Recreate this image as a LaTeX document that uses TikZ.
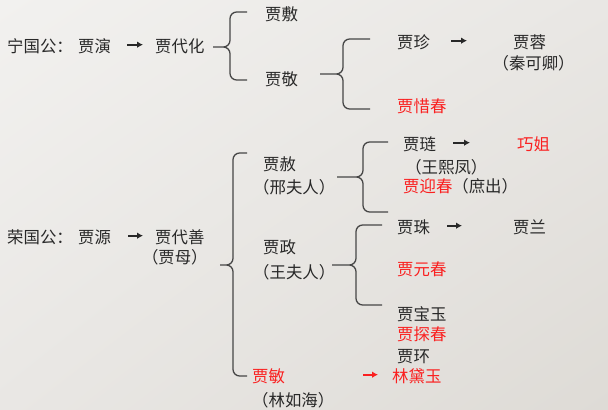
\documentclass[tikz,border=0pt]{standalone}
\usepackage{fontspec}
\newfontfamily\cjk{Noto Sans CJK SC}
\usepackage{xcolor}
\usetikzlibrary{arrows.meta, positioning, shadings}
\definecolor{bgA}{RGB}{242,241,239}
\definecolor{bgM}{RGB}{233,231,228}
\definecolor{bgB}{RGB}{222,219,214}
\definecolor{ink}{RGB}{40,40,40}
\definecolor{hred}{RGB}{250,32,32}
\definecolor{brk}{RGB}{70,70,70}
\tikzset{
  person/.style = {
    inner sep=0pt, anchor=west, text=ink,
    font=\cjk\fontsize{14}{17}\selectfont,
    text height=12pt, text depth=2pt
  },
  chai/.style  = {person, text=hred},
  bline/.style = {draw=brk, line width=1.1pt, rounded corners=0.2cm},
  arr/.style   = {-{Latex[length=1.8mm,width=2mm]}, line width=1.5pt, draw=ink}
}

\begin{document}
\begin{tikzpicture}[x=0.03cm, y=-0.03cm]

%% -- background ------------------------------------------
\shade[upper left=bgA, upper right=bgM, lower left=bgM, lower right=bgB]
  (0,0) rectangle (608,409);
\useasboundingbox (0,0) rectangle (608,409);

%% -- Ningguo line ----------------------------------------
\node[person] (ning)   at (7,47)   {宁国公：};
\node[person] (yan)    at (78,47)  {贾演};
\node[person] (daihua) at (155,47) {贾代化};
\node[person] (fu)     at (265,15) {贾敷};
\node[person] (jing)   at (265,80) {贾敬};
\node[person] (zhen)   at (397,43) {贾珍};
\node[person] (rong)   at (513,43) {贾蓉};
\node[person, below=0.1cm of rong, xshift=0.12cm] (qin) {（秦可卿）};
\node[chai]   (xichun) at (397,107) {贾惜春};

%% -- Rongguo line ----------------------------------------
\node[person] (rongguo) at (7,238)   {荣国公：};
\node[person] (yuan)    at (78,238)  {贾源};
\node[person] (daishan) at (155,238) {贾代善};
\node[person, below=0.075cm of daishan, xshift=-0.15cm] (jiamu) {（贾母）};

\node[person] (she) at (263,165) {贾赦};
\node[person, below=0.165cm of she.south west, anchor=north west,
      xshift=-0.3cm] (xing) {（邢夫人）};
\node[person] (zheng) at (263,248) {贾政};
\node[person, below=0.225cm of zheng.south west, anchor=north west,
      xshift=-0.3cm] (wang) {（王夫人）};
\node[chai] (min) at (252,377) {贾敏};
\node[person, below=0.195cm of min.south west, anchor=north west]
  (lin) {（林如海）};

%% -- grandchildren ---------------------------------------
\node[person] (lian)    at (403,145) {贾琏};
\node[chai]   (qiaojie) at (517,145) {巧姐};
\node[person, below=0.165cm of lian, xshift=0.8cm] (xifeng) {（王熙凤）};
\node[person] (yingchun) at (403,187) {\textcolor{hred}{贾迎春}（庶出）};
\node[person] (zhu)      at (397,228) {贾珠};
\node[person] (lan)      at (513,228) {贾兰};
\node[chai]   (yuanchun) at (397,270) {贾元春};
\node[person] (baoyu)    at (397,315) {贾宝玉};
\node[chai]   (tanchun)  at (397,335) {贾探春};
\node[person] (huan)     at (397,357) {贾环};
\node[chai]   (daiyu)    at (392,377) {林黛玉};

%% -- braces ----------------------------------------------
\draw[bline] (213,47) -| (230,12) -- (247,12)
             (213,47) -| (230,80) -- (247,80);
\draw[bline] (320,74) -| (343,39) -- (370,39)
             (320,74) -| (343,109) -- (370,109);
\draw[bline] (220,265) -| (233,153) -- (247,153)
             (220,265) -| (233,376) -- (247,376);
\draw[bline] (337,177) -| (363,142) -- (388,142)
             (337,177) -| (363,212) -- (388,212);
\draw[bline] (332,265) -| (356,225) -- (382,225)
             (332,265) -| (356,305) -- (382,305);

%% -- arrows ----------------------------------------------
\draw[arr, shorten <=0.48cm, shorten >=0.36cm]
  ([yshift=0.07cm]yan.east) -- ([yshift=0.07cm]daihua.west);
\draw[arr, shorten <=0.51cm, shorten >=0.36cm]
  ([yshift=0.07cm]yuan.east) -- ([yshift=0.07cm]daishan.west);
\draw[arr, shorten <=0.63cm, shorten >=1.38cm]
  ([yshift=0.07cm]zhen.east) -- ([yshift=0.07cm]rong.west);
\draw[arr, shorten <=0.51cm, shorten >=1.41cm]
  ([yshift=0.07cm]lian.east) -- ([yshift=0.07cm]qiaojie.west);
\draw[arr, shorten <=0.51cm, shorten >=1.53cm]
  ([yshift=0.07cm]zhu.east) -- ([yshift=0.07cm]lan.west);
\draw[arr, draw=hred, shorten <=2.34cm, shorten >=0.42cm]
  ([yshift=0.07cm]min.east) -- ([yshift=0.07cm]daiyu.west);

\end{tikzpicture}
\end{document}
